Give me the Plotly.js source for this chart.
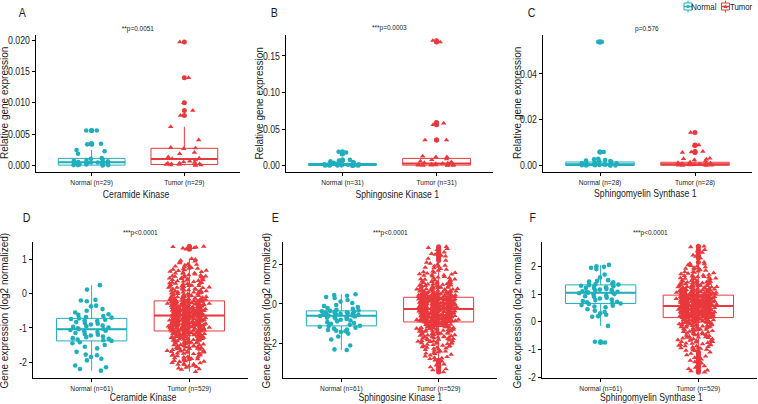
<!DOCTYPE html>
<html><head><meta charset="utf-8">
<script src="https://cdn.plot.ly/plotly-3.0.1.min.js"></script>
<style>html,body{margin:0;padding:0;background:#fff}#chart{width:758px;height:404px}</style>
</head><body><div id="chart"></div>
<script>
// ---------------- DATA ----------------
const A_labels = ['Normal (n=29)', 'Tumor (n=29)'];
const A_normal = [0.0056,0.0056,0.0035,0.0035,0.0034,0.0025,0.0023,0.0019,0.0012,0.0011,0.0010,0.0009,0.0008,0.0007,0.0006,0.0006,0.0005,0.0005,0.0004,0.0004,0.0003,0.0003,0.0002,0.0002,0.0002,0.0001,0.0001,0.0001,0.00005];
const A_tumor = [0.0197,0.014,0.010,0.0088,0.008,0.0062,0.0041,0.0029,0.0028,0.0027,0.0021,0.0019,0.0014,0.0012,0.0011,0.0009,0.0007,0.0006,0.0005,0.0004,0.0004,0.0003,0.0003,0.0002,0.0002,0.0002,0.0001,0.0001,0.00005];
const A_q1 = [0.0001, 0.0002];
const A_median = [0.00054, 0.00107];
const A_q3 = [0.00117, 0.00277];
const A_lower = [0.00005, 0.00005];
const A_upper = [0.0025, 0.0062];

const B_labels = ['Normal (n=31)', 'Tumor (n=31)'];
const B_normal = [0.019,0.018,0.016,0.008,0.007,0.006,0.005,0.004,0.004,0.003,0.003,0.0025,0.002,0.002,0.0018,0.0015,0.0013,0.0012,0.001,0.001,0.0009,0.0008,0.0007,0.0006,0.0005,0.0005,0.0004,0.0003,0.0003,0.0002,0.0001];
const B_tumor = [0.171,0.169,0.059,0.058,0.056,0.035,0.035,0.013,0.012,0.012,0.009,0.008,0.006,0.005,0.004,0.0035,0.003,0.0028,0.0025,0.002,0.0018,0.0015,0.0012,0.001,0.0009,0.0008,0.0007,0.0005,0.0004,0.0003,0.0002];
const B_q1 = [0.0003, 0.0008];
const B_median = [0.0015, 0.003];
const B_q3 = [0.003, 0.010];
const B_lower = [0.0001, 0.0002];
const B_upper = [0.006, 0.013];

const C_labels = ['Normal (n=28)', 'Tumor (n=28)'];
const C_normal = [0.054,0.054,0.006,0.006,0.003,0.0028,0.0025,0.0022,0.002,0.0018,0.0016,0.0015,0.0012,0.001,0.0009,0.0008,0.0007,0.0006,0.0005,0.0004,0.0004,0.0003,0.0003,0.0002,0.0002,0.0001,0.0001,0.00005];
const C_tumor = [0.0145,0.009,0.0088,0.0062,0.006,0.0058,0.0032,0.003,0.0028,0.0025,0.002,0.0015,0.0013,0.0011,0.0009,0.0008,0.0007,0.0006,0.0006,0.0005,0.0004,0.0004,0.0003,0.0003,0.0002,0.0002,0.0001,0.0001];
const C_q1 = [0.0001, 0.0002];
const C_median = [0.0006, 0.0006];
const C_q3 = [0.0016, 0.0015];
const C_lower = [0.00005, 0.0001];
const C_upper = [0.003, 0.0032];

const D_labels = ['Normal (n=61)', 'Tumor (n=529)'];
const D_normal = [.25,.12,-.18,-.2,-.22,-.35,-.37,-.45,-.5,-.55,-.6,-.62,-.65,-.68,-.7,-.72,-.74,-.76,-.78,-.8,-.83,-.86,-.88,-.9,-.93,-.95,-.97,-.99,-1.01,-1.03,-1.04,-1.06,-1.08,-1.1,-1.12,-1.15,-1.18,-1.2,-1.22,-1.25,-1.27,-1.3,-1.32,-1.34,-1.36,-1.38,-1.42,-1.45,-1.5,-1.55,-1.6,-1.7,-1.78,-1.8,-1.85,-1.9,-1.95,-2.1,-2.15,-2.2,-2.25];
const D_tumor = [1.38,1.36,1.35,1.33,1.30,1.02,.95,.9,.87,.81,.8,.76,.72,.71,.67,.64,.6,.59,.55,.53,.5,.49,.46,.44,.42,.4,.37,.36,.33,.3,.29,.27,.25,.23,.2,.19,.17,.15,.14,.12,.1,.08,.07,.05,.04,.02,.01,0,-.02,-.03,-.05,-.06,-.07,-.08,-.1,-.11,-.12,-.13,-.14,-.15,-.16,-.17,-.18,-.19,-.2,-.2,
-.21,-.22,-.23,-.23,-.24,-.25,-.26,-.27,-.27,-.28,-.29,-.3,-.31,-.31,-.32,-.33,-.34,-.35,-.35,-.36,-.37,-.38,-.38,-.39,-.4,-.41,-.42,-.42,-.43,-.44,-.45,-.46,-.46,-.47,-.48,-.49,-.5,-.5,-.51,-.52,-.53,-.54,-.54,-.55,-.56,-.57,-.58,-.58,-.59,-.6,-.6,-.61,-.62,-.62,-.63,-.63,-.64,-.64,-.25,-.3,-.37,-.45,-.52,-.57,-.61,-.44,
-.65,-.66,-.66,-.67,-.68,-.69,-.7,-.7,-.71,-.72,-.73,-.74,-.74,-.75,-.76,-.77,-.78,-.78,-.79,-.8,-.81,-.82,-.82,-.83,-.84,-.85,-.86,-.86,-.87,-.88,-.89,-.9,-.9,-.91,-.92,-.93,-.94,-.94,-.95,-.96,-.97,-.98,-.98,-.99,-1,-1.01,-1.02,-1.02,-1.03,-1.04,-1.05,-1.06,-1.06,-1.07,-1.08,-1.08,-1.09,-.72,-.8,-.88,-.96,-1.0,-.69,-.76,-.84,-.92,
-1.1,-1.11,-1.12,-1.13,-1.14,-1.15,-1.16,-1.18,-1.19,-1.2,-1.21,-1.23,-1.24,-1.26,-1.27,-1.29,-1.3,-1.32,-1.33,-1.35,-1.37,-1.38,-1.4,-1.42,-1.44,-1.46,-1.48,-1.5,-1.52,-1.54,-1.56,-1.58,-1.6,-1.62,-1.64,-1.66,-1.68,-1.7,-1.72,-1.75,-1.77,-1.8,-1.82,-1.85,-1.88,-1.9,-1.93,-1.96,-1.99,-2.02,-2.05,-2.08,-2.12,-2.16,-2.2,-2.28,-1.13,-1.17,-1.22,-1.28,-1.34,-1.41,-1.49,-1.57,-1.65,-1.74,
1.37,1.34,1.0,.93,.85,.78,.74,.69,.65,.62,.57,.54,.51,.47,.45,.43,.39,.38,.35,.32,.31,.28,.26,.24,.22,.21,.18,.16,.13,.11,.09,.06,.03,.01,-.01,-.04,-.06,-.09,-.11,-.13,-.15,-.16,-.18,-.19,-.2,-.21,.83,.6,.41,.23,.05,-.07,-.14,.97,.68,.48,.34,.18,.04,-.09,-.17,.74,.52,.28,.1,-.03,
-.22,-.22,-.24,-.25,-.26,-.26,-.28,-.29,-.3,-.3,-.32,-.33,-.34,-.34,-.36,-.37,-.37,-.39,-.4,-.4,-.41,-.43,-.43,-.44,-.45,-.47,-.47,-.48,-.49,-.5,-.51,-.51,-.52,-.53,-.55,-.55,-.56,-.57,-.59,-.59,-.6,-.61,-.62,-.63,-.64,-.23,-.27,-.32,-.36,-.41,-.46,-.5,-.54,-.58,-.62,-.29,-.35,-.42,-.48,-.56,-.28,-.39,-.49,-.53,-.6,-.33,
-.65,-.67,-.68,-.69,-.71,-.72,-.73,-.75,-.76,-.77,-.79,-.8,-.81,-.83,-.84,-.85,-.87,-.88,-.89,-.91,-.92,-.93,-.95,-.96,-.97,-.99,-1,-1.01,-1.03,-1.04,-1.05,-1.07,-1.08,-1.09,-.66,-.7,-.74,-.78,-.82,-.86,-.9,-.94,-.98,-1.02,-1.06,-.67,-.72,-.77,-.83,-.88,-.93,-.99,-1.04,-.68,-.75,-.81,-.87,-.95,-1.01,-1.07,-.71,-.79,-.85,-.91,-.97,-1.05,
-1.1,-1.11,-1.12,-1.14,-1.15,-1.17,-1.18,-1.2,-1.22,-1.23,-1.25,-1.26,-1.28,-1.3,-1.31,-1.33,-1.35,-1.36,-1.39,-1.41,-1.43,-1.45,-1.47,-1.5,-1.53,-1.55,-1.58,-1.61,-1.63,-1.66,-1.69,-1.71,-1.74,-1.78,-1.81,-1.84,-1.87,-1.91,-1.95,-1.98,-2.03,-2.07,-2.1,-2.14,-2.18,-2.22,-1.12,-1.16,-1.21,-1.27,-1.32,-1.37,-1.44,-1.52,-1.59,-1.67,-1.76,-1.86,-1.97,-2.06,-1.19,-1.29,-1.4,-1.53,-1.7,-1.9];
const D_q1 = [-1.38, -1.09];
const D_median = [-1.04, -0.64];
const D_q3 = [-0.72, -0.21];
const D_lower = [-2.25, -2.28];
const D_upper = [0.25, 1.03];

const E_labels = ['Normal (n=61)', 'Tumor (n=529)'];
const E_normal = [.49,.45,.42,.35,.3,.2,.12,.05,-.05,-.1,-.15,-.2,-.25,-.3,-.33,-.35,-.37,-.39,-.4,-.42,-.44,-.45,-.47,-.49,-.5,-.52,-.54,-.55,-.57,-.58,-.59,-.61,-.63,-.66,-.68,-.7,-.73,-.76,-.8,-.84,-.88,-.92,-.96,-1.0,-1.05,-1.1,-1.12,-1.15,-1.2,-1.25,-1.3,-1.32,-1.35,-1.38,-1.42,-1.5,-1.65,-1.8,-2.1,-2.3,-2.33];
const E_tumor = [2.9,2.85,2.8,2.62,2.55,2.5,2.42,2.3,2.1,2.05,1.95,1.9,1.82,1.75,1.7,1.62,1.55,1.5,1.44,1.38,1.32,1.27,1.22,1.18,1.14,1.1,1.06,1.02,.98,.95,.92,.89,.86,.83,.8,.77,.74,.72,.7,.67,.65,.63,.61,.59,.57,.55,.53,.51,.5,.48,.47,.45,.44,.42,.41,.4,.39,.38,.37,.36,.35,.35,1.0,.9,.78,.6,
.34,.33,.32,.3,.29,.28,.27,.25,.24,.23,.22,.2,.19,.18,.17,.15,.14,.13,.12,.1,.09,.08,.07,.05,.04,.03,.02,0,-.01,-.02,-.03,-.05,-.06,-.07,-.08,-.1,-.11,-.12,-.13,-.15,-.16,-.17,-.18,-.2,-.21,-.22,-.23,-.24,-.25,.31,.26,.21,.16,.11,.06,.01,-.04,-.09,-.14,-.19,.28,.13,-.02,-.17,.22,-.12,
-.26,-.28,-.28,-.3,-.31,-.33,-.33,-.35,-.36,-.37,-.39,-.4,-.41,-.41,-.43,-.45,-.46,-.46,-.48,-.49,-.5,-.52,-.53,-.53,-.55,-.56,-.57,-.59,-.6,-.6,-.62,-.63,-.64,-.66,-.67,-.68,-.68,-.7,-.71,-.72,-.74,-.75,-.75,-.77,-.78,-.79,-.8,-.81,-.82,-.83,-.84,-.85,-.86,-.86,-.87,-.88,-.89,-.89,-.9,-.9,-.91,-.3,-.44,-.58,-.65,-.79,
-.93,-.95,-.96,-.98,-1,-1.02,-1.04,-1.06,-1.08,-1.1,-1.12,-1.15,-1.17,-1.2,-1.22,-1.25,-1.27,-1.3,-1.33,-1.36,-1.39,-1.42,-1.45,-1.48,-1.52,-1.55,-1.58,-1.62,-1.65,-1.69,-1.72,-1.76,-1.8,-1.84,-1.88,-1.92,-1.96,-2.0,-2.05,-2.1,-2.15,-2.2,-2.26,-2.32,-2.4,-2.48,-2.56,-2.65,-2.72,-2.78,-2.85,-2.95,-3.05,-3.2,-3.3,-3.45,-.97,-1.05,-1.13,-1.24,-1.35,-1.5,-1.68,-1.9,-2.12,-2.5,
2.75,2.45,2.2,2.0,1.92,1.85,1.78,1.66,1.58,1.52,1.46,1.4,1.35,1.3,1.24,1.2,1.16,1.12,1.08,1.04,1.0,.97,.94,.91,.88,.85,.82,.79,.76,.73,.71,.69,.66,.64,.62,.6,.58,.56,.54,.52,.5,.49,.47,.46,.44,.43,.41,.4,.39,.38,.37,.36,.35,1.6,1.25,.96,.75,.55,.45,1.48,1.1,.84,.68,.52,.42,.37,
.33,.32,.31,.29,.28,.27,.26,.24,.23,.21,.2,.19,.17,.16,.14,.13,.11,.1,.09,.07,.06,.04,.03,.02,0,-.01,-.03,-.04,-.05,-.07,-.08,-.09,-.11,-.12,-.14,-.15,-.16,-.18,-.19,-.21,-.22,-.23,-.24,.3,.25,.18,.12,.05,-.01,-.06,-.11,-.16,-.2,.27,.15,.08,-.04,-.13,-.22,.22,.09,-.06,-.18,.32,0,-.24,
-.27,-.29,-.3,-.32,-.34,-.35,-.37,-.38,-.4,-.42,-.43,-.44,-.46,-.47,-.49,-.51,-.52,-.54,-.55,-.57,-.58,-.6,-.61,-.63,-.64,-.66,-.67,-.69,-.7,-.72,-.73,-.75,-.76,-.78,-.79,-.81,-.82,-.84,-.85,-.87,-.88,-.9,-.27,-.33,-.39,-.45,-.51,-.57,-.63,-.69,-.75,-.81,-.87,-.31,-.38,-.47,-.56,-.65,-.74,-.83,-.36,-.5,-.62,-.77,-.85,-.9,
-.92,-.94,-.97,-.99,-1.01,-1.03,-1.05,-1.07,-1.09,-1.11,-1.14,-1.16,-1.19,-1.21,-1.24,-1.26,-1.29,-1.31,-1.34,-1.37,-1.4,-1.44,-1.47,-1.5,-1.53,-1.57,-1.6,-1.63,-1.67,-1.7,-1.74,-1.78,-1.82,-1.86,-1.9,-1.94,-1.98,-2.02,-2.07,-2.12,-2.18,-2.24,-2.3,-2.36,-2.44,-2.52,-2.6,-2.68,-2.75,-2.9,-3.1,-3.35,-.95,-1.0,-1.1,-1.18,-1.28,-1.38,-1.46,-1.56,-1.66,-1.76,-1.88,-2.0,-2.2,-2.4];
const E_q1 = [-1.11, -0.91];
const E_median = [-0.59, -0.25];
const E_q3 = [-0.35, 0.34];
const E_lower = [-2.33, -2.78];
const E_upper = [0.49, 2.1];

const F_labels = ['Normal (n=61)', 'Tumor (n=529)'];
const F_normal = [2.05,2.0,1.98,1.95,1.9,1.7,1.6,1.5,1.48,1.45,1.42,1.4,1.38,1.36,1.34,1.32,1.3,1.28,1.26,1.24,1.22,1.2,1.18,1.16,1.14,1.12,1.1,1.08,1.07,1.06,1.05,1.03,1.0,.98,.95,.92,.9,.87,.84,.8,.78,.75,.72,.7,.68,.66,.64,.6,.58,.55,.52,.45,.4,.35,.3,.25,.2,.18,-.15,-.72,-.75];
const F_tumor = [2.72,2.7,2.55,2.5,2.35,2.3,2.1,2.05,2.0,1.95,1.9,1.85,1.8,1.76,1.72,1.68,1.64,1.6,1.57,1.54,1.5,1.47,1.44,1.42,1.4,1.37,1.35,1.33,1.31,1.29,1.27,1.25,1.23,1.21,1.2,1.18,1.17,1.15,1.14,1.12,1.11,1.1,1.08,1.07,1.06,1.05,1.04,1.03,1.02,1.01,1.0,.99,.98,.97,.97,1.5,1.3,1.16,1.09,1.62,1.26,1.13,1.45,1.38,1.22,1.0,
.96,.95,.95,.94,.93,.92,.91,.9,.9,.89,.88,.87,.86,.85,.85,.84,.83,.82,.81,.8,.8,.79,.78,.77,.76,.75,.75,.74,.73,.72,.71,.7,.7,.69,.68,.67,.66,.65,.65,.64,.63,.62,.61,.6,.6,.59,.58,.58,.57,.57,.93,.88,.83,.78,.73,.68,.63,.91,.81,.71,.61,.87,.77,.67,.59,.84,
.56,.55,.55,.54,.53,.52,.51,.5,.5,.49,.48,.47,.46,.45,.45,.44,.43,.42,.41,.4,.4,.39,.38,.37,.36,.35,.35,.34,.33,.32,.31,.3,.3,.29,.28,.27,.26,.25,.25,.24,.23,.22,.21,.2,.2,.19,.18,.17,.16,.15,.53,.48,.43,.38,.33,.28,.23,.18,.51,.41,.31,.21,.46,.36,.26,.16,
.14,.13,.12,.1,.09,.08,.06,.05,.03,.02,0,-.02,-.04,-.06,-.08,-.1,-.12,-.14,-.16,-.18,-.2,-.23,-.26,-.29,-.32,-.35,-.38,-.42,-.46,-.5,-.54,-.58,-.62,-.66,-.7,-.74,-.78,-.82,-.86,-.9,-.95,-1.0,-1.05,-1.1,-1.15,-1.2,-1.3,-1.35,-1.4,-1.5,-1.55,-1.6,-1.7,-1.75,-1.82,.11,.04,-.03,-.11,-.19,-.28,-.4,-.56,-.72,-.88,-1.02,
2.6,2.4,2.15,2.08,2.02,1.97,1.92,1.87,1.82,1.78,1.74,1.7,1.66,1.62,1.58,1.55,1.52,1.49,1.46,1.43,1.41,1.39,1.36,1.34,1.32,1.3,1.28,1.26,1.24,1.22,1.19,1.17,1.16,1.14,1.13,1.11,1.1,1.09,1.08,1.06,1.05,1.04,1.03,1.02,1.01,1.0,.99,.98,.97,1.56,1.35,1.2,1.07,1.68,1.4,1.25,1.12,1.03,1.8,1.48,1.31,1.15,1.05,.99,1.93,1.6,
.96,.95,.94,.93,.92,.92,.91,.9,.89,.88,.87,.87,.86,.85,.84,.83,.82,.82,.81,.8,.79,.78,.77,.77,.76,.75,.74,.73,.72,.72,.71,.7,.69,.68,.67,.67,.66,.65,.64,.63,.62,.62,.61,.6,.59,.58,.57,.94,.89,.84,.79,.74,.69,.64,.59,.92,.86,.8,.74,.68,.62,.9,.83,.76,.7,.63,
.56,.55,.54,.53,.52,.51,.5,.49,.48,.47,.46,.45,.44,.43,.42,.41,.4,.39,.38,.37,.36,.35,.34,.33,.32,.31,.3,.29,.28,.27,.26,.25,.24,.23,.22,.21,.2,.19,.18,.17,.16,.15,.54,.49,.44,.39,.34,.29,.24,.19,.52,.47,.42,.37,.32,.27,.22,.17,.55,.45,.35,.25,.5,.4,.3,.2,
.14,.13,.11,.1,.08,.07,.05,.04,.02,.01,-.01,-.03,-.05,-.07,-.09,-.11,-.13,-.15,-.17,-.19,-.22,-.25,-.27,-.3,-.33,-.36,-.39,-.43,-.47,-.51,-.55,-.6,-.64,-.68,-.72,-.76,-.8,-.84,-.88,-.92,-.97,-1.02,-1.25,-1.45,-1.65,-1.78,.12,.06,0,-.06,-.14,-.21,-.31,-.44,-.57,-.69,-.83,-.96,.09,-.04,-.24,-.48,-.62,-.79,-.93,-1.04];
const F_q1 = [0.66, 0.15];
const F_median = [1.05, 0.57];
const F_q3 = [1.33, 0.96];
const F_lower = [-0.15, -1.05];
const F_upper = [2.05, 2.1];

const genes = ['Ceramide Kinase', 'Sphingosine Kinase 1', 'Sphingomyelin Synthase 1', 'Ceramide Kinase', 'Sphingosine Kinase 1', 'Sphingomyelin Synthase 1'];
const pvalues = ['**p=0.0051', '***p=0.0003', 'p=0.576', '***p<0.0001', '***p<0.0001', '***p<0.0001'];
const letters = ['A', 'B', 'C', 'D', 'E', 'F'];
const yTitles = ['Relative gene expression', 'Relative gene expression', 'Relative gene expression', 'Gene expression (log2 normalized)', 'Gene expression (log2 normalized)', 'Gene expression (log2 normalized)'];
const groupNames = ['Normal', 'Tumor'];

// ---------------- LAYOUT / STYLE ----------------
const W = 758, H = 404;
const COLORS = ['#1FAFBC', '#E8393D'];
const SYMBOLS = ['circle', 'triangle-up'];
const FONT = '"Liberation Sans", Arial, sans-serif';
const SQUEEZE = 0.85;   // the reference figure is horizontally condensed

const panels = [
  {labels:A_labels, data:[A_normal, A_tumor], q1:A_q1, med:A_median, q3:A_q3, lo:A_lower, hi:A_upper,
   rect:[36,35,240,172], yrange:[-0.001,0.0208], tickvals:[0,0.005,0.01,0.015,0.02], dec:3,
   letter:[22,13], pval:[138,29], xt:[136,194], yt:[4.5,103.5]},
  {labels:B_labels, data:[B_normal, B_tumor], q1:B_q1, med:B_median, q3:B_q3, lo:B_lower, hi:B_upper,
   rect:[286,35,493,172], yrange:[-0.0086,0.1787], tickvals:[0,0.05,0.1,0.15], dec:2,
   letter:[274,13], pval:[389.5,27], xt:[397,194], yt:[259,103.5]},
  {labels:C_labels, data:[C_normal, C_tumor], q1:C_q1, med:C_median, q3:C_q3, lo:C_lower, hi:C_upper,
   rect:[543,35,752,172], yrange:[-0.00275,0.057], tickvals:[0,0.02,0.04], dec:2,
   letter:[531.5,13], pval:[647,28.5], xt:[645,193.5], yt:[517.5,103.5]},
  {labels:D_labels, data:[D_normal, D_tumor], q1:D_q1, med:D_median, q3:D_q3, lo:D_lower, hi:D_upper,
   rect:[33,242,248,378], yrange:[-2.465,1.512], tickvals:[-2,-1,0,1], dec:0,
   letter:[26,217.5], pval:[140.5,233], xt:[143,397.5], yt:[4,310.5]},
  {labels:E_labels, data:[E_normal, E_tumor], q1:E_q1, med:E_median, q3:E_q3, lo:E_lower, hi:E_upper,
   rect:[283,242,497,378], yrange:[-3.75,3.14], tickvals:[-2,0,2], dec:0,
   letter:[275,217.5], pval:[390,233], xt:[400,397.5], yt:[266,310.5]},
  {labels:F_labels, data:[F_normal, F_tumor], q1:F_q1, med:F_median, q3:F_q3, lo:F_lower, hi:F_upper,
   rect:[542,242,757,378], yrange:[-2.03,2.877], tickvals:[-2,-1,0,1,2], dec:0,
   letter:[533,217.5], pval:[650,233], xt:[651,397], yt:[517,310.5]}
];

const px = x => x / W;
const py = y => 1 - y / H;

const traces = [];
const layout = {
  width: W, height: H, margin: {l:0, r:0, t:0, b:0},
  paper_bgcolor: '#fff', plot_bgcolor: 'rgba(0,0,0,0)',
  showlegend: false, boxmode: 'overlay', boxgap: 0,
  font: {family: FONT, color: '#1a1a1a'},
  annotations: [], shapes: []
};

const BOXW = 0.72;
const hidden = {fillcolor: 'rgba(0,0,0,0)', line: {width: 0, color: 'rgba(0,0,0,0)'}, whiskerwidth: 0};

// split sorted values into rank bands (of varying sizes) so that the library's
// density-scaled jitter spreads every band across the full jitter width
function bands(vals, sizes) {
  const s = vals.slice().sort((a, b) => b - a);
  const out = [];
  let k = 0, j = 0;
  while (k < s.length) {
    const sz = sizes[j++ % sizes.length];
    out.push(s.slice(k, k + sz));
    k += sz;
  }
  if (out.length > 1 && out[out.length - 1].length < sizes[0] / 2) {
    const last = out.pop();
    out[out.length - 1] = out[out.length - 1].concat(last);
  }
  return out;
}
const sizesFor = n => n > 200 ? [41, 47, 37, 44, 50, 39] : (n > 40 ? [13, 17, 15, 16] : [9, 7, 8, 10]);

panels.forEach((p, i) => {
  const sfx = i === 0 ? '' : String(i + 1);
  const xa = 'x' + sfx, ya = 'y' + sfx;
  const [x0, y0, x1, y1] = p.rect;
  layout['xaxis' + sfx] = {
    domain: [px(x0), px(x1)], anchor: ya, type: 'category', categoryorder: 'array', categoryarray: p.labels,
    range: [-0.6, 1.6], showline: true, linecolor: '#000', linewidth: 1, ticks: 'outside', ticklen: 3,
    tickcolor: '#000', tickwidth: 1, showgrid: false, zeroline: false, fixedrange: true,
    tickfont: {size: 7.8, family: FONT, color: '#222'}
  };
  layout['yaxis' + sfx] = {
    domain: [py(y1), py(y0)], anchor: xa, range: p.yrange, tickvals: p.tickvals,
    ticktext: p.tickvals.map(v => v.toFixed(p.dec)),
    showline: true, linecolor: '#000', linewidth: 1, ticks: 'outside', ticklen: 3,
    tickcolor: '#000', tickwidth: 1, showgrid: false, zeroline: false, fixedrange: true,
    ticklabelstandoff: 0, tickfont: {size: 10.3, family: FONT, color: '#222'}
  };
  // boxes
  [0, 1].forEach(g => {
    traces.push({type:'box', name: groupNames[g], xaxis: xa, yaxis: ya, x: [p.labels[g]],
      q1: [p.q1[g]], median: [p.med[g]], q3: [p.q3[g]], lowerfence: [p.lo[g]], upperfence: [p.hi[g]],
      width: BOXW, boxpoints: false, fillcolor: '#fff', whiskerwidth: 0,
      line: {color: COLORS[g], width: 1}, hoverinfo: 'skip'});
    traces.push({type:'box', name: groupNames[g], xaxis: xa, yaxis: ya, x: [p.labels[g]],
      q1: [p.med[g]], median: [p.med[g]], q3: [p.med[g]], lowerfence: [p.med[g]], upperfence: [p.med[g]],
      width: BOXW, boxpoints: false, fillcolor: 'rgba(0,0,0,0)', whiskerwidth: 0,
      line: {color: COLORS[g], width: 2}, hoverinfo: 'skip'});
  });
  // outliers drawn by the boxplot at the centre
  [0, 1].forEach(g => {
    const out = p.data[g].filter(v => v > p.hi[g] || v < p.lo[g]);
    traces.push(Object.assign({type:'box', name: groupNames[g], xaxis: xa, yaxis: ya,
      x: out.map(() => p.labels[g]), y: out, width: BOXW, boxpoints: 'all', jitter: 0, pointpos: 0,
      marker: {symbol: 'circle', size: 5, color: COLORS[g], line: {width: 0}}, hoverinfo: 'y'}, hidden));
  });
  // jittered points
  [0, 1].forEach(g => {
    const vals = p.data[g];
    bands(vals, sizesFor(vals.length)).forEach(b => {
      traces.push(Object.assign({type:'box', name: groupNames[g], xaxis: xa, yaxis: ya,
        x: b.map(() => p.labels[g]), y: b, width: BOXW, boxpoints: 'all', jitter: 0.64, pointpos: 0,
        marker: {symbol: SYMBOLS[g], size: g === 0 ? 4.6 : 4.9, color: COLORS[g], line: {width: 0}}, hoverinfo: 'y'}, hidden));
    });
  });
  const ann = (x, y, text, size, extra) => layout.annotations.push(Object.assign({
    xref: 'paper', yref: 'paper', x: px(x), y: py(y), text: text, showarrow: false,
    xanchor: 'center', yanchor: 'middle', font: {size: size, family: FONT, color: '#1a1a1a'}}, extra || {}));
  ann(p.letter[0], p.letter[1], letters[i], 12.5);
  ann(p.pval[0], p.pval[1], pvalues[i], 7.6);
  ann(p.xt[0], p.xt[1], genes[i], 10.2);
  ann(p.yt[0], p.yt[1], yTitles[i], 10, {textangle: -90});
});

// legend (top right)
const legendItems = [{x: 688, tx: 703.5, label: groupNames[0], c: COLORS[0], sym: 'dot'}, {x: 725.5, tx: 740.5, label: groupNames[1], c: COLORS[1], sym: 'tri'}];
legendItems.forEach(it => {
  const cy = 6.5;
  layout.shapes.push({type:'rect', xref:'paper', yref:'paper', x0: px(it.x - 4), x1: px(it.x + 4), y0: py(cy + 3.5), y1: py(cy - 3.5), line:{color: it.c, width: 1}, fillcolor:'#fff'});
  layout.shapes.push({type:'line', xref:'paper', yref:'paper', x0: px(it.x - 4), x1: px(it.x + 4), y0: py(cy), y1: py(cy), line:{color: it.c, width: 1.5}});
  layout.shapes.push({type:'line', xref:'paper', yref:'paper', x0: px(it.x), x1: px(it.x), y0: py(0.5), y1: py(cy - 3.5), line:{color: it.c, width: 1}});
  layout.shapes.push({type:'line', xref:'paper', yref:'paper', x0: px(it.x), x1: px(it.x), y0: py(cy + 3.5), y1: py(12.5), line:{color: it.c, width: 1}});
  if (it.sym === 'dot') {
    layout.shapes.push({type:'circle', xref:'paper', yref:'paper', x0: px(it.x - 1.6), x1: px(it.x + 1.6), y0: py(cy + 1.6), y1: py(cy - 1.6), line:{width:0}, fillcolor: it.c});
  } else {
    layout.shapes.push({type:'path', xref:'paper', yref:'paper', path: 'M' + px(it.x - 2) + ',' + py(cy + 1.6) + ' L' + px(it.x + 2) + ',' + py(cy + 1.6) + ' L' + px(it.x) + ',' + py(cy - 2) + ' Z', line:{width:0}, fillcolor: it.c});
  }
  layout.annotations.push({xref:'paper', yref:'paper', x: px(it.tx), y: py(cy), text: it.label, showarrow: false, xanchor:'center', yanchor:'middle', font:{size: 9.2, family: FONT, color:'#1a1a1a'}});
});

// horizontally condense every horizontal text, as in the reference image
function condense(gd) {
  gd.querySelectorAll('text').forEach(t => {
    const s = (t.textContent || '').trim();
    if (!s || yTitles.indexOf(s) >= 0) return;
    const len = t.getComputedTextLength();
    if (len > 0) {
      t.setAttribute('textLength', (len * SQUEEZE).toFixed(2));
      t.setAttribute('lengthAdjust', 'spacingAndGlyphs');
    }
  });
}

Plotly.newPlot('chart', traces, layout, {staticPlot: true, displayModeBar: false}).then(condense);
</script></body></html>
